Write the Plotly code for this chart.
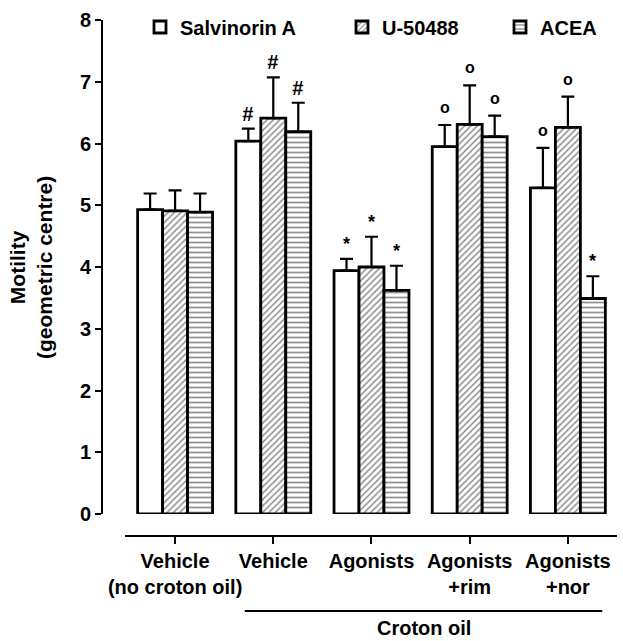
import plotly.graph_objects as go

categories = ["Vehicle<br>(no croton oil)", "Vehicle", "Agonists", "Agonists<br>+rim", "Agonists<br>+nor"]
series_names = ["Salvinorin A", "U-50488", "ACEA"]
salvinorin_mean = [4.93, 6.04, 3.94, 5.95, 5.28]
salvinorin_err = [0.26, 0.20, 0.19, 0.35, 0.65]
u50488_mean = [4.91, 6.41, 4.00, 6.31, 6.26]
u50488_err = [0.33, 0.66, 0.49, 0.63, 0.50]
acea_mean = [4.89, 6.19, 3.62, 6.11, 3.49]
acea_err = [0.30, 0.47, 0.40, 0.34, 0.36]
salvinorin_sig = ["", "#", "*", "o", "o"]
u50488_sig = ["", "#", "*", "o", "o"]
acea_sig = ["", "#", "*", "o", "*"]
y_ticks = [0, 1, 2, 3, 4, 5, 6, 7, 8]

FONT = "Liberation Sans, Arial, sans-serif"
x = list(range(len(categories)))

means = [salvinorin_mean, u50488_mean, acea_mean]
errs = [salvinorin_err, u50488_err, acea_err]
sigs = [salvinorin_sig, u50488_sig, acea_sig]
patterns = [
    dict(shape=""),
    dict(shape="/", size=4.5, solidity=0.35, fgcolor="#222", bgcolor="white"),
    dict(shape="-", size=5, solidity=0.35, fgcolor="#222", bgcolor="white"),
]
legend_ids = ["legend", "legend2", "legend3"]

fig = go.Figure()
for name, m, e, p, lg in zip(series_names, means, errs, patterns, legend_ids):
    fig.add_trace(go.Bar(
        x=x, y=m, name=name, legend=lg,
        marker=dict(color="white", line=dict(color="black", width=2.8), pattern=p),
        error_y=dict(type="data", symmetric=False, array=e, arrayminus=[0] * len(e),
                     thickness=2.2, width=6.5, color="black"),
    ))

bargap = 0.237
bw = (1 - bargap) / 3
offsets = [-bw, 0, bw]
for s, (m, e, sg) in enumerate(zip(means, errs, sigs)):
    for i in x:
        if not sg[i]:
            continue
        sym = sg[i]
        if sym == "#":
            txt, size, shift = "<b><i>#</i></b>", 20, 2
        elif sym == "o":
            txt, size, shift = "<b>o</b>", 16, 7
        else:
            txt, size, shift = "<b>*</b>", 18, 3
        fig.add_annotation(x=i + offsets[s], y=m[i] + e[i], xref="x", yref="y",
                           text=txt, showarrow=False, yanchor="bottom", yshift=shift,
                           font=dict(family=FONT, size=size, color="black"))

L, R, T, B = 40, 6, 20, 105
W, H = 623 - L - R, 641 - T - B

def px_x(p):
    return (p - L) / W

def px_y(p):
    return (641 - B - p) / H

legend_font = dict(family=FONT, size=20, color="black", weight="bold")
legend_x = [140, 342, 500]
legends = {}
for lg, lx in zip(legend_ids, legend_x):
    legends[lg] = dict(orientation="h", x=px_x(lx), y=px_y(27), xanchor="left", yanchor="middle",
                       font=legend_font, itemwidth=30, bgcolor="rgba(0,0,0,0)")

fig.update_layout(
    width=623, height=641,
    margin=dict(l=L, r=R, t=T, b=B, autoexpand=False),
    plot_bgcolor="white", paper_bgcolor="white",
    barmode="group", bargap=bargap, bargroupgap=0,
    font=dict(family=FONT, size=16, color="black"),
    showlegend=True,
    xaxis=dict(domain=[px_x(125), 1], range=[-0.51, 4.5], anchor="free", position=0,
               tickmode="array", tickvals=x, ticktext=categories, tickangle=0,
               showline=True, linecolor="black", linewidth=2,
               ticks="outside", ticklen=7, tickwidth=2, tickcolor="black",
               tickfont=dict(family=FONT, size=20, color="black", weight="bold"),
               showgrid=False, zeroline=False, automargin=False),
    yaxis=dict(domain=[px_y(514), 1], range=[0, 8], anchor="free", position=px_x(102),
               tickmode="array", tickvals=y_ticks,
               showline=True, linecolor="black", linewidth=2,
               ticks="outside", ticklen=6, tickwidth=2, tickcolor="black",
               tickfont=dict(family=FONT, size=20, color="black", weight="bold"),
               showgrid=False, zeroline=False, automargin=False),
    **legends,
)

# y-axis title
fig.add_annotation(x=px_x(31), y=px_y(268), xref="paper", yref="paper",
                   xanchor="center", yanchor="middle",
                   text="<b>Motility<br>(geometric centre)</b>", textangle=-90,
                   showarrow=False, font=dict(family=FONT, size=21, color="black"))

# Croton oil bracket
fig.add_shape(type="line", xref="x", yref="paper", x0=0.71, x1=4.35,
              y0=px_y(611), y1=px_y(611), line=dict(color="black", width=2))
fig.add_annotation(x=2.53, y=px_y(628), xref="x", yref="paper", text="<b>Croton oil</b>",
                   showarrow=False, yanchor="middle",
                   font=dict(family=FONT, size=20, color="black"))

fig.write_html("out.html")
